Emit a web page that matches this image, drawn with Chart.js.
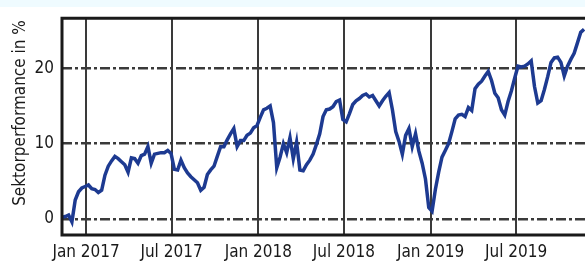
<!DOCTYPE html>
<html>
<head>
<meta charset="utf-8">
<script src="https://cdn.jsdelivr.net/npm/chart.js@4/dist/chart.umd.min.js"></script>
<style>
  html, body { margin: 0; padding: 0; background: #ffffff; }
  #wrap { width: 585px; height: 262px; position: relative; }
  canvas { display: block; }
</style>
</head>
<body>
<div id="wrap"><canvas id="c" width="585" height="262"></canvas></div>
<script>
// Weekly observation dates (Fridays)
const dates = [
  "2016-11-11","2016-11-18","2016-11-25","2016-12-02","2016-12-09","2016-12-16","2016-12-23","2016-12-30",
  "2017-01-06","2017-01-13","2017-01-20","2017-01-27","2017-02-03","2017-02-10","2017-02-17","2017-02-24",
  "2017-03-03","2017-03-10","2017-03-17","2017-03-24","2017-03-31","2017-04-07","2017-04-14","2017-04-21",
  "2017-04-28","2017-05-05","2017-05-12","2017-05-19","2017-05-26","2017-06-02","2017-06-09","2017-06-16",
  "2017-06-23","2017-06-30","2017-07-07","2017-07-14","2017-07-21","2017-07-28","2017-08-04","2017-08-11",
  "2017-08-18","2017-08-25","2017-09-01","2017-09-08","2017-09-15","2017-09-22","2017-09-29","2017-10-06",
  "2017-10-13","2017-10-20","2017-10-27","2017-11-03","2017-11-10","2017-11-17","2017-11-24","2017-12-01",
  "2017-12-08","2017-12-15","2017-12-22","2017-12-29","2018-01-05","2018-01-12","2018-01-19","2018-01-26",
  "2018-02-02","2018-02-09","2018-02-16","2018-02-23","2018-03-02","2018-03-09","2018-03-16","2018-03-23",
  "2018-03-30","2018-04-06","2018-04-13","2018-04-20","2018-04-27","2018-05-04","2018-05-11","2018-05-18",
  "2018-05-25","2018-06-01","2018-06-08","2018-06-15","2018-06-22","2018-06-29","2018-07-06","2018-07-13",
  "2018-07-20","2018-07-27","2018-08-03","2018-08-10","2018-08-17","2018-08-24","2018-08-31","2018-09-07",
  "2018-09-14","2018-09-21","2018-09-28","2018-10-05","2018-10-12","2018-10-19","2018-10-26","2018-11-02",
  "2018-11-09","2018-11-16","2018-11-23","2018-11-30","2018-12-07","2018-12-14","2018-12-21","2018-12-28",
  "2019-01-04","2019-01-11","2019-01-18","2019-01-25","2019-02-01","2019-02-08","2019-02-15","2019-02-22",
  "2019-03-01","2019-03-08","2019-03-15","2019-03-22","2019-03-29","2019-04-05","2019-04-12","2019-04-19",
  "2019-04-26","2019-05-03","2019-05-10","2019-05-17","2019-05-24","2019-05-31","2019-06-07","2019-06-14",
  "2019-06-21","2019-06-28","2019-07-05","2019-07-12","2019-07-19","2019-07-26","2019-08-02","2019-08-09",
  "2019-08-16","2019-08-23","2019-08-30","2019-09-06","2019-09-13","2019-09-20","2019-09-27","2019-10-04",
  "2019-10-11","2019-10-18","2019-10-25","2019-11-01","2019-11-08","2019-11-15","2019-11-22"
];

// Sector performance in %
const performance = [
  0.2, 0.3, 0.5, -0.4, 2.5, 3.6, 4.1, 4.3,
  4.5, 4.0, 3.9, 3.5, 3.8, 5.8, 7.0, 7.7,
  8.3, 8.0, 7.6, 7.2, 6.2, 8.1, 8.0, 7.4,
  8.4, 8.6, 9.6, 7.4, 8.6, 8.7, 8.8, 8.8,
  9.1, 8.7, 6.6, 6.5, 7.8, 6.8, 6.1, 5.6,
  5.2, 4.8, 3.8, 4.2, 5.9, 6.5, 7.0, 8.3,
  9.6, 9.6, 10.5, 11.3, 12.0, 9.6, 10.4, 10.4,
  11.1, 11.4, 12.1, 12.4, 13.5, 14.5, 14.7, 15.0,
  12.8, 6.8, 8.2, 10.0, 8.8, 10.8, 8.0, 10.2,
  6.5, 6.4, 7.2, 7.8, 8.6, 9.9, 11.3, 13.6,
  14.5, 14.6, 14.9, 15.6, 15.8, 13.2, 12.9, 14.0,
  15.2, 15.7, 16.0, 16.4, 16.6, 16.2, 16.4, 15.7,
  15.0, 15.7, 16.3, 16.8, 14.5, 11.6, 10.3, 8.6,
  11.1, 12.0, 9.6, 11.3, 9.0, 7.4, 5.3, 1.5,
  1.0, 3.9, 6.2, 8.2, 9.1, 10.0, 11.6, 13.3,
  13.8, 13.9, 13.6, 14.8, 14.4, 17.3, 17.9, 18.3,
  19.0, 19.6, 18.4, 16.7, 16.1, 14.5, 13.8, 15.6,
  17.0, 18.7, 20.3, 20.2, 20.3, 20.6, 21.0, 17.6,
  15.4, 15.7, 17.2, 18.9, 20.8, 21.4, 21.5, 20.8,
  19.0, 20.3, 21.2, 22.0, 23.4, 24.8, 25.2
];

// Axis ticks
const xTickDates = ["2017-01-01","2017-07-01","2018-01-01","2018-07-01","2019-01-01","2019-07-01"];
const xTickLabels = ["Jan 2017","Jul 2017","Jan 2018","Jul 2018","Jan 2019","Jul 2019"];
const yTickValues = [0, 10, 20];
const yTitle = "Sektorperformance in %";

const EPOCH = Date.UTC(2017, 0, 1);
function dayNum(s) {
  const p = s.split("-").map(Number);
  return (Date.UTC(p[0], p[1] - 1, p[2]) - EPOCH) / 86400000;
}
const points = dates.map((d, i) => ({ x: dayNum(d), y: performance[i] }));
const xTickPos = xTickDates.map(dayNum);

const FONT = '"DejaVu Sans Condensed", "Liberation Sans Narrow", "Liberation Sans", sans-serif';

const framePlugin = {
  id: 'frame',
  beforeDraw(chart) {
    const ctx = chart.ctx;
    ctx.save();
    ctx.fillStyle = '#ffffff';
    ctx.fillRect(0, 0, chart.width, chart.height);
    ctx.fillStyle = '#effbff';
    ctx.fillRect(0, 0, chart.width, 7);
    ctx.restore();
  },
  afterDatasetsDraw(chart) {
    const { ctx, chartArea: a } = chart;
    ctx.save();
    ctx.strokeStyle = '#1a1a1a';
    ctx.lineWidth = 3;
    ctx.lineCap = 'square';
    ctx.beginPath();
    ctx.moveTo(a.right + 5, a.top);
    ctx.lineTo(a.left, a.top);
    ctx.lineTo(a.left, a.bottom);
    ctx.lineTo(a.right + 5, a.bottom);
    ctx.stroke();
    // y-axis title
    ctx.translate(21, 113);
    ctx.rotate(-Math.PI / 2);
    ctx.fillStyle = '#1a1a1a';
    ctx.font = '17px ' + FONT;
    ctx.textAlign = 'center';
    ctx.textBaseline = 'middle';
    ctx.fillText(yTitle, 0, 0);
    ctx.restore();
  }
};

new Chart(document.getElementById('c'), {
  type: 'line',
  data: {
    datasets: [{
      data: points,
      borderColor: '#1d3a91',
      borderWidth: 3.5,
      pointRadius: 0,
      tension: 0,
      fill: false,
      borderJoinStyle: 'miter'
    }]
  },
  options: {
    responsive: false,
    animation: false,
    devicePixelRatio: 1,
    layout: { padding: { top: 11, right: 0, left: 0, bottom: 0 } },
    plugins: { legend: { display: false }, tooltip: { enabled: false } },
    scales: {
      x: {
        type: 'linear',
        min: -51,
        max: 1057,
        afterBuildTicks(scale) { scale.ticks = xTickPos.map(v => ({ value: v })); },
        afterFit(scale) { scale.height = 27; },
        ticks: {
          autoSkip: false,
          maxRotation: 0,
          padding: 7,
          color: '#1a1a1a',
          font: { family: FONT, size: 17 },
          callback(value, index) { return xTickLabels[index]; }
        },
        grid: { color: '#3a3a3a', lineWidth: 2, drawTicks: false },
        border: { display: false }
      },
      y: {
        min: -2.15,
        max: 26.68,
        afterBuildTicks(scale) { scale.ticks = yTickValues.map(v => ({ value: v })); },
        afterFit(scale) { scale.width = 62; },
        ticks: {
          padding: 8,
          color: '#1a1a1a',
          font: { family: FONT, size: 17 },
          callback(value) { return String(value); }
        },
        title: { display: false },
        grid: {
          color: '#3a3a3a',
          lineWidth: 2.5,
          drawTicks: false,
          borderDash: [10, 3, 3, 3]
        },
        border: { display: false, dash: [10, 3, 3, 3] }
      }
    }
  },
  plugins: [framePlugin]
});
</script>
</body>
</html>
